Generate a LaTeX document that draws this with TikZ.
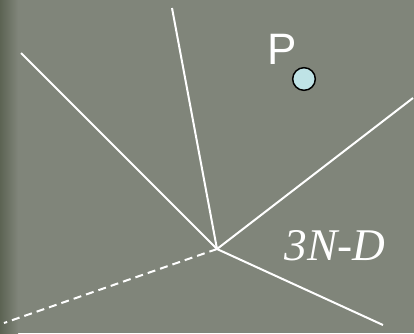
\documentclass[tikz,border=0pt]{standalone}
\usepackage{fontspec}
\setmainfont{Liberation Serif}
\newfontfamily\labelsans{Liberation Sans}
\usepackage{xcolor}
\usetikzlibrary{positioning, calc}
\definecolor{colBack}{HTML}{80857A}
\definecolor{colEdge}{HTML}{5C6353}
\definecolor{colPoint}{HTML}{BFE3E6}

\begin{document}
\begin{tikzpicture}[
    x=0.75pt, y=-0.75pt,
    ridge/.style={draw=white, line width=1.5pt},
    hidden/.style={ridge, dash pattern=on 6pt off 3.8pt},
    pointdot/.style={
        circle, draw=black, line width=1.1pt, fill=colPoint,
        minimum size=17pt, inner sep=0pt
    },
    pointlabel/.style={
        font=\labelsans\fontsize{33}{33}\selectfont,
        text=white, inner sep=0pt
    },
    regionlabel/.style={
        font=\itshape\fontsize{34}{34}\selectfont,
        text=white, inner sep=0pt
    }
]

    % --- BACKGROUND ---
    \fill[colBack] (0,0) rectangle (414,333);
    \shade[left color=colEdge, right color=colBack] (0,0) rectangle (18,333);
    \useasboundingbox (0,0) rectangle (414,333);

    % --- VERTEX AND RAY ENDS ---
    \coordinate (vertex) at (217,249);
    \coordinate (endTop)   at (172,8);
    \coordinate (endLeft)  at (21,53);
    \coordinate (endRight) at (413,98);
    \coordinate (endLow)   at (383,325);
    \coordinate (endDash)  at (4,323);

    % --- RAYS ---
    \draw[ridge] (vertex) -- (endTop);
    \draw[ridge] (vertex) -- (endLeft);
    \draw[ridge] (vertex) -- (endRight);
    \draw[ridge] (vertex) -- (endLow);
    \draw[hidden] (vertex) -- (endDash);

    % --- POINT P ---
    \node[pointdot] (pdot) at (304,79) {};
    \node[pointlabel] (plabel) at (282,49) {P};

    % --- REGION LABEL ---
    \node[regionlabel] (region) at (335,246) {3N-D};

\end{tikzpicture}
\end{document}
